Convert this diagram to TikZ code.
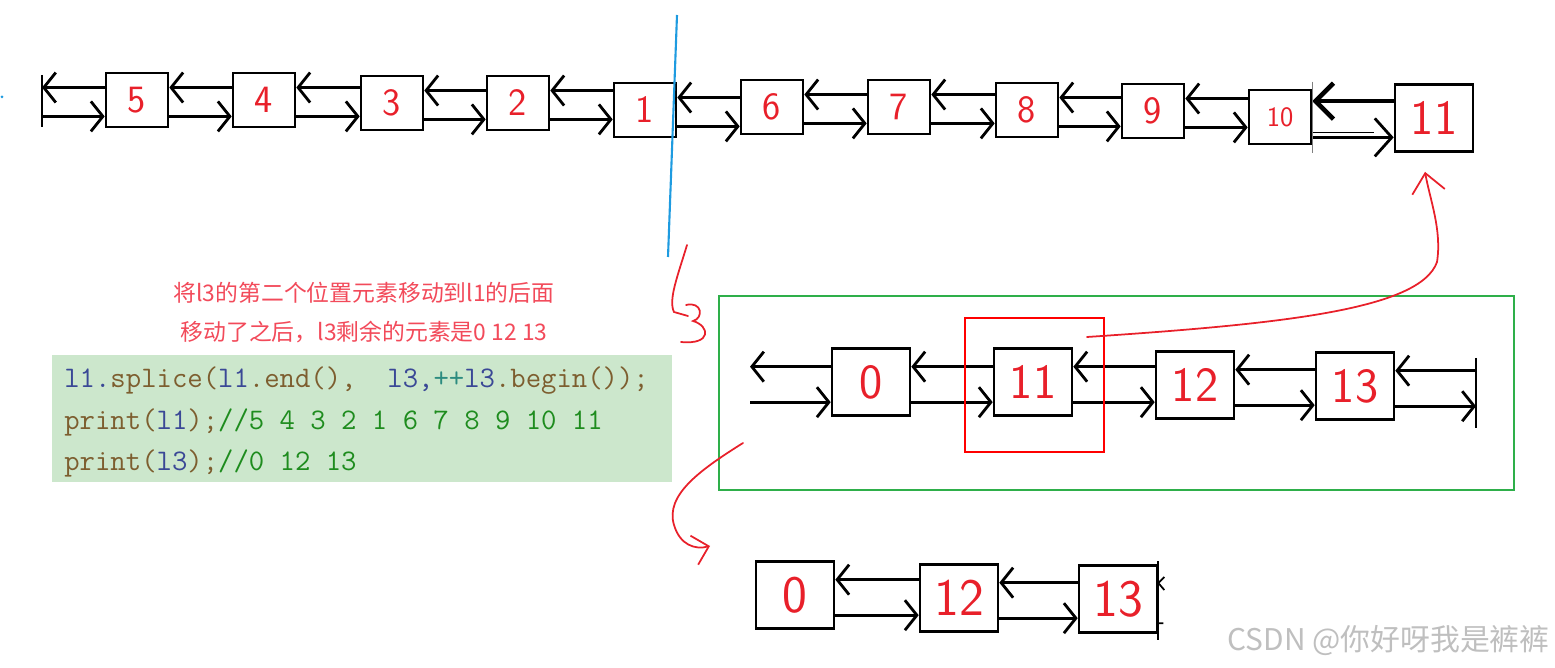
\documentclass[tikz,border=0pt]{standalone}
\usepackage{fontspec}
\newfontfamily\cjk{Noto Sans CJK SC}
\usetikzlibrary{arrows.meta,calc}
\definecolor{inkred}{HTML}{E8202A}
\definecolor{notered}{HTML}{F24A5A}
\definecolor{framegreen}{HTML}{2EAF4A}
\definecolor{codebg}{HTML}{CCE7CC}
\definecolor{kwblue}{HTML}{3A4896}
\definecolor{kwbrown}{HTML}{7D5E2F}
\definecolor{kwgreen}{HTML}{1E8C1E}
\definecolor{kwteal}{HTML}{2C8C80}
\definecolor{splitblue}{HTML}{1E9BE0}
\tikzset{
  cell/.style={draw, line width=1.5pt, inner sep=0pt, text=inkred,
    minimum width=1.24cm, minimum height=1.08cm, font=\sffamily\fontsize{22}{22}\selectfont},
  bigcell/.style={cell, minimum width=1.56cm, minimum height=1.34cm,
    font=\sffamily\fontsize{28}{28}\selectfont},
  lnk/.style={line width=1.6pt},
  inkline/.style={inkred, line width=1pt, line cap=round},
  note/.style={text=notered, font=\cjk\fontsize{13}{13}\selectfont},
  code/.style={anchor=base west, inner sep=0pt, font=\ttfamily\fontsize{17}{17}\selectfont},
}
\begin{document}
\begin{tikzpicture}[x=0.02cm, y=-0.02cm, >={Straight Barb[length=0.24cm,width=0.6cm]}]
\useasboundingbox (0,0) rectangle (1555,668);

% l1 after the splice
\node[cell] (t5) at (137,100) {5};
\node[cell] (t4) at (264,100) {4};
\node[cell] (t3) at (392,103) {3};
\node[cell] (t2) at (518,103) {2};
\node[cell] (t1) at (645,110) {1};
\node[cell] (t6) at (772,107) {6};
\node[cell] (t7) at (899,107) {7};
\node[cell] (t8) at (1027,110) {8};
\node[cell] (t9) at (1153,111) {9};
\node[cell, font=\sffamily\fontsize{16}{16}\selectfont] (t10) at (1280,117) {10};
\node[bigcell] (t11) at (1434,118) {11};

% l3 before
\node[bigcell] (m0) at (871,382) {0};
\node[bigcell] (m11) at (1033,382) {11};
\node[bigcell] (m12) at (1195,385) {12};
\node[bigcell] (m13) at (1355,386) {13};

% l3 after
\node[bigcell, font=\sffamily\fontsize{30}{30}\selectfont] (b0) at (795,595) {0};
\node[bigcell, font=\sffamily\fontsize{30}{30}\selectfont] (b12) at (959,598) {12};
\node[bigcell, font=\sffamily\fontsize{30}{30}\selectfont] (b13) at (1118,599) {13};

\foreach \a/\b in {t5/t4,t4/t3,t3/t2,t2/t1,t1/t6,t6/t7,t7/t8,t8/t9,t9/t10,
                   m0/m11,m11/m12,m12/m13,b0/b12,b12/b13}{
  \path ($(\a.north east)!.28!(\a.south east)$) coordinate (u)
        ($(\a.north east)!.79!(\a.south east)$) coordinate (l);
  \draw[lnk,<-] (u) -- (u -| \b.west);
  \draw[lnk,->] (l) -- (l -| \b.west);
}

% 10 -- 11
\path ($(t10.north east)!.22!(t10.south east)$) coordinate (u)
      ($(t10.north east)!.86!(t10.south east)$) coordinate (l);
\draw[line width=2.6pt, {Straight Barb[length=0.36cm,width=0.72cm]}-] (u) -- (u -| t11.west);
\draw[lnk, -{Straight Barb[length=0.34cm,width=0.76cm]}] (l) -- (l -| t11.west);
\draw[line width=0.8pt] ($(l)+(0,-5)$) -- ++(62,0);
\draw[line width=0.6pt, gray] ([yshift=0.14cm]t10.north east) -- ([yshift=-0.16cm]t10.south east);

% open ends
\coordinate (tl) at (42,100);
\draw[line width=1pt] (tl) ++(0,-25) -- ++(0,52);
\path ($(t5.north west)!.28!(t5.south west)$) coordinate (u)
      ($(t5.north west)!.79!(t5.south west)$) coordinate (l);
\draw[lnk,<-] (u -| tl) -- (u);
\draw[lnk,->] (l -| tl) -- (l);

\coordinate (ml) at (750,382);
\path ($(m0.north west)!.28!(m0.south west)$) coordinate (u)
      ($(m0.north west)!.79!(m0.south west)$) coordinate (l);
\draw[lnk,<-] (u -| ml) -- (u);
\draw[lnk,->] (l -| ml) -- (l);

\coordinate (mr) at (1476,392);
\draw[line width=0.8pt] (mr) ++(0,-34) -- ++(0,70);
\path ($(m13.north east)!.28!(m13.south east)$) coordinate (u)
      ($(m13.north east)!.79!(m13.south east)$) coordinate (l);
\draw[lnk,<-] (u) -- (u -| mr);
\draw[lnk,->] (l) -- (l -| mr);

\draw[line width=1pt] ([yshift=0.06cm]b13.north east) -- ([yshift=-0.12cm]b13.south east);
\draw[line width=1pt] ($(b13.north east)!.27!(b13.south east)$) -- ++(6,-6)
      ($(b13.north east)!.27!(b13.south east)$) -- ++(6,7)
      ($(b13.north east)!.85!(b13.south east)$) -- ++(5,0);

% split mark
\draw[splitblue, line width=1.2pt] (677,15) -- (668,257);
\fill[splitblue] (2,97) circle (1.5);

% frames
\draw[framegreen, line width=1.2pt] (719,296) rectangle (1514,490);
\draw[red, line width=1.2pt] (965,318) rectangle (1104,452);

% moved element
\coordinate (c1) at (1087,337);
\draw[inkline, -{Straight Barb[length=0.38cm,width=0.66cm]}] (c1)
  .. controls (1280,324) and (1420,310) .. (1437,262)
  .. controls (1442,230) and (1430,200) .. ($(t11.south)+(-9,19)$);

\draw[inkline] (687,245) .. controls (678,275) and (668,300) .. (674,312) -- (688,316);
\draw[inkline] (686,305) .. controls (702,301) and (704,318) .. (693,321)
  .. controls (710,326) and (712,345) .. (681,342);
\draw[inkline, -{Straight Barb[length=0.3cm,width=0.6cm]}] (743,443)
  .. controls (700,470) and (665,495) .. (674,525)
  .. controls (680,545) and (695,550) .. (710,546);

% notes and code
\node[note] (note1) at (364,293) {将l3的第二个位置元素移动到l1的后面};
\node[note] (note2) at (364,332) {移动了之后，l3剩余的元素是0 12 13};

\fill[codebg] (52,355) rectangle (672,482);
\node[code] (code1) at (64,388) {\color{kwblue}l1.\color{kwbrown}splice(\color{kwblue}l1\color{kwbrown}.end(),\ \ \color{kwblue}l3,\color{kwteal}++\color{kwblue}l3\color{kwbrown}.begin());};
\node[code] (code2) at (64,430) {\color{kwbrown}print(\color{kwblue}l1\color{kwbrown});\color{kwgreen}//5 4 3 2 1 6 7 8 9 10 11};
\node[code] (code3) at (64,471) {\color{kwbrown}print(\color{kwblue}l3\color{kwbrown});\color{kwgreen}//0 12 13};

\node[anchor=east, inner sep=0pt, text=gray!50, font=\cjk\fontsize{17}{17}\selectfont] (mark) at (1550,641) {CSDN @你好呀我是裤裤};
\end{tikzpicture}
\end{document}
